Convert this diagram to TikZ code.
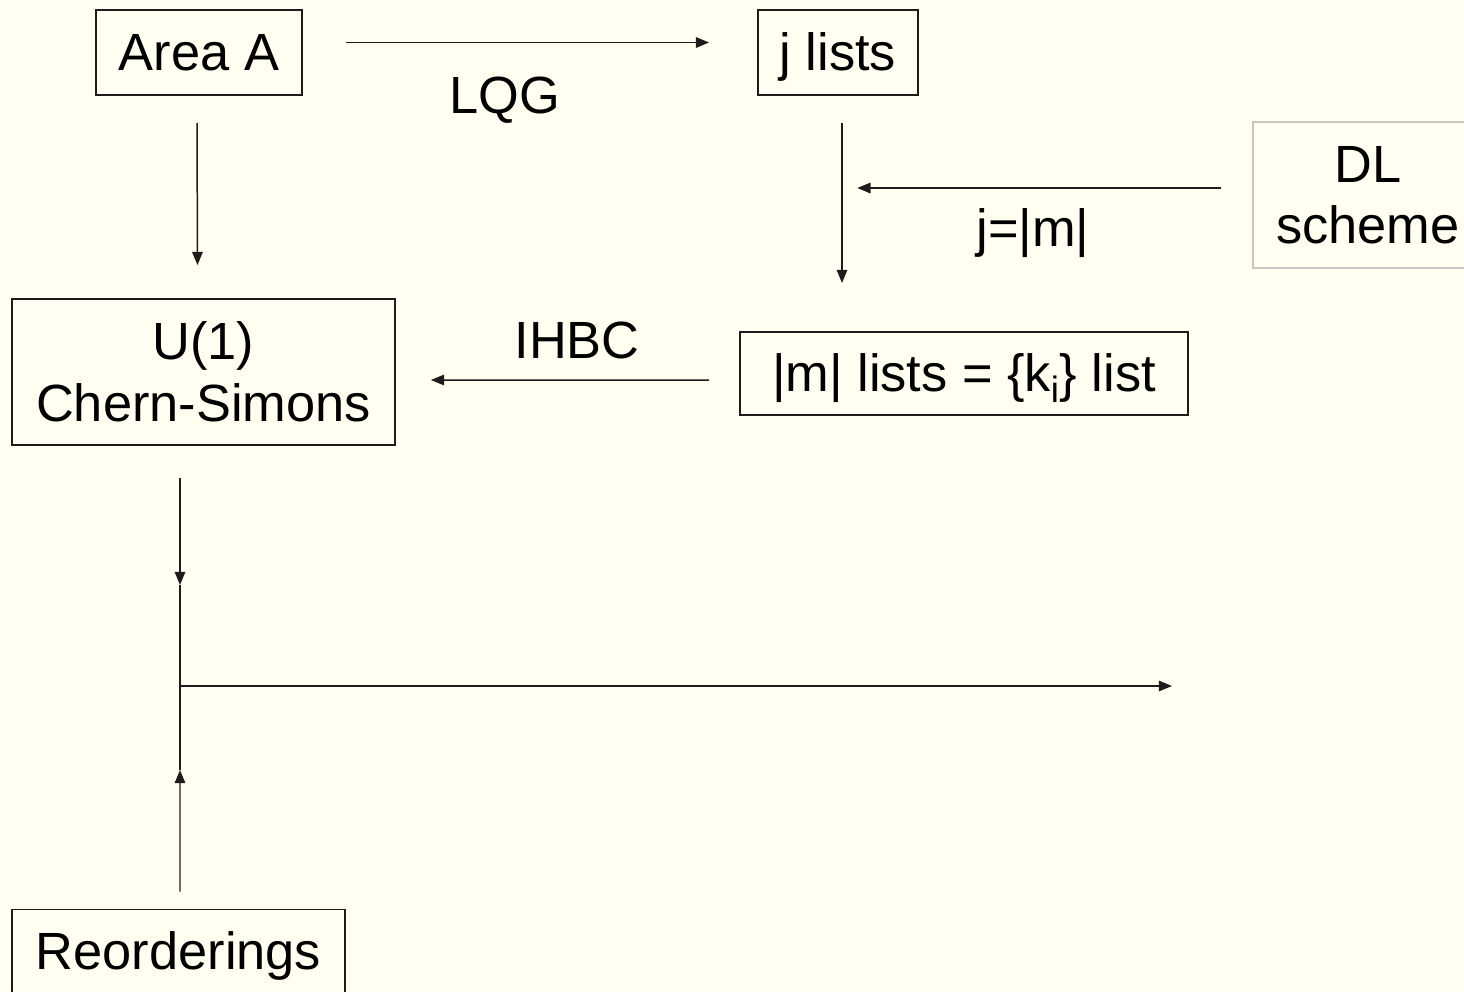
\documentclass[tikz,border=0pt]{standalone}
\usepackage{fontspec}
\setmainfont{Liberation Sans}
\usetikzlibrary{arrows.meta,calc}

\definecolor{paper}{RGB}{255,254,240}
\definecolor{ink}{RGB}{30,28,26}
\definecolor{faint}{RGB}{200,198,190}

\begin{document}
\begin{tikzpicture}[x=0.02cm,y=-0.02cm,
    box/.style={draw=ink,line width=1.1pt,inner sep=0pt,align=center,
        font=\fontsize{29.8}{35}\selectfont},
    oneline/.style={text height=25pt,text depth=5pt},
    lbl/.style={inner sep=0pt,font=\fontsize{29.8}{35}\selectfont},
    arr/.style={-{Triangle[length=7.5pt,width=6pt]},line width=0.85pt,draw=ink}]

% Page
\fill[paper] (0,0) rectangle (1464,991);
\useasboundingbox (0,0) rectangle (1464,991);

% Boxes
\node[box,oneline,minimum width=4.12cm,minimum height=1.7cm] (areaA) at (199,52.5) {Area A};
\node[box,oneline,minimum width=3.2cm,minimum height=1.7cm] (jlists) at (838,52.5) {j lists};
\node[box,draw=faint,line width=0.8pt,minimum width=4.6cm,minimum height=2.92cm] (dl) at (1368,195) {DL\\scheme};
\node[box,minimum width=7.66cm,minimum height=2.92cm] (cs) at (203.5,372) {U(1)\\Chern-Simons};
\node[box,oneline,minimum width=8.96cm,minimum height=1.66cm] (mlist) at (964,373.5) {|m| lists = \{k\textsubscript{i}\} list};
\node[box,oneline,minimum width=6.66cm,minimum height=1.7cm] (reord) at (178.5,952) {Reorderings};

% Junction below Chern-Simons
\coordinate (join) at (180,686);

% Arrows
\draw[arr] ($(areaA.east)+(43,-10)$) -- ($(jlists.west)+(-48,-10)$);
\draw[arr] ($(areaA.south)+(-2,27)$) -- ($(cs.north)+(-6,-33)$);
\draw[arr] ($(jlists.south)+(4,27)$) -- ++(0,160);
\draw[arr] ($(dl.west)+(-31,-7)$) -- ++(-364,0);
\draw[arr] ($(mlist.west)+(-30,6.5)$) -- ($(cs.east)+(35,8)$);
\draw[arr] ($(cs.south)+(-23.5,32)$) -- ($(join)+(0,-101)$);
\draw[arr] ($(reord.north)+(1.5,-17)$) -- ($(join)+(0,84)$);
\draw[line width=0.85pt,draw=ink] ($(join)+(0,-101)$) -- ($(join)+(0,84)$);
\draw[arr] (join) -- ++(992,0);

% Labels
\node[lbl] (lqg) at (505,100) {LQG};
\node[lbl] (jm) at (1033,233) {j=|m|};
\node[lbl] (ihbc) at (577,340) {IHBC};

\end{tikzpicture}
\end{document}
